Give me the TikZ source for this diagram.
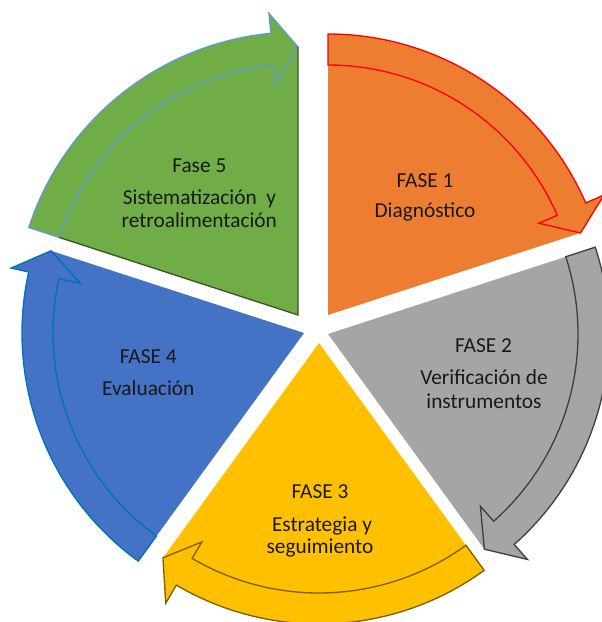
\documentclass[tikz,border=0pt]{standalone}
\usepackage{fontspec}
\setmainfont{Carlito}
\usepackage{xcolor}
\definecolor{naranja}{HTML}{ED7D31}
\definecolor{gris}{HTML}{A5A5A5}
\definecolor{grisoscuro}{HTML}{404040}
\definecolor{amarillo}{HTML}{FFC000}
\definecolor{dorado}{HTML}{7F6000}
\definecolor{azul}{HTML}{4472C4}
\definecolor{azulborde}{HTML}{0070C0}
\definecolor{verde}{HTML}{70AD47}
\definecolor{verdeoscuro}{HTML}{385723}
\definecolor{celeste}{HTML}{5B9BD5}

\begin{document}
\begin{tikzpicture}[x=0.75pt, y=0.75pt, line width=1pt, line join=miter,
	etiqueta/.style={anchor=base, inner sep=0pt, text=black!90,
		font=\fontsize{16}{17.5}\selectfont}]
	\useasboundingbox (0,0) rectangle (602,622);
	
	% FASE 1
	\begin{scope}[shift={(328,307)}]
		\fill[naranja] (0,0) -- (90:266) arc[start angle=90, end angle=18, radius=266] -- cycle;
		\filldraw[fill=naranja, draw=red] (90:281) arc[start angle=90, end angle=23.5, radius=281]
		-- (23.5:301) -- (18:265.5) -- (23.5:230) -- (23.5:250)
		arc[start angle=23.5, end angle=90, radius=250] -- cycle;
	\end{scope}
	
	% FASE 2
	\begin{scope}[shift={(328,288)}]
		\fill[gris] (0,0) -- (18:266) arc[start angle=18, end angle=-54, radius=266] -- cycle;
		\filldraw[fill=gris, draw=grisoscuro] (18:281) arc[start angle=18, end angle=-48.5, radius=281]
		-- (-48.5:301) -- (-54:266) -- (-48.5:230) -- (-48.5:250)
		arc[start angle=-48.5, end angle=18, radius=250] -- cycle;
	\end{scope}
	
	% FASE 3
	\begin{scope}[shift={(319,279)}]
		\fill[amarillo] (0,0) -- (-54:266) arc[start angle=-54, end angle=-126, radius=266] -- cycle;
		\filldraw[fill=amarillo, draw=dorado] (-54:281) arc[start angle=-54, end angle=-120.5, radius=281]
		-- (-120.5:302) -- (-126:265.5) -- (-120.5:231) -- (-120.5:250)
		arc[start angle=-120.5, end angle=-54, radius=250] -- cycle;
	\end{scope}
	
	% FASE 4
	\begin{scope}[shift={(304,289)}]
		\fill[azul] (0,0) -- (-126:266) arc[start angle=-126, end angle=-198, radius=266] -- cycle;
		\filldraw[fill=azul, draw=azulborde] (-126:282) arc[start angle=-126, end angle=-192.5, radius=282]
		-- (-192.5:300) -- (-198:266) -- (-192.5:229) -- (-192.5:251)
		arc[start angle=-192.5, end angle=-126, radius=251] -- cycle;
	\end{scope}
	
	% FASE 5
	\begin{scope}[shift={(298,307)}]
		\fill[verde] (0,0) -- (162:267) arc[start angle=162, end angle=90, radius=267] -- cycle;
		\filldraw[fill=verde, draw=celeste] (162:283) arc[start angle=162, end angle=95.5, radius=283]
		-- (95.5:303) -- (90:268) -- (95.5:232) -- (95.5:251)
		arc[start angle=95.5, end angle=162, radius=251] -- cycle;
		\draw[verdeoscuro] (90:268) -- (0,0) -- (162:251);
	\end{scope}
	
	\node[etiqueta] (fase1) at (425,434.7) {FASE 1};
	\node[etiqueta] (diagnostico) at (425,404.7) {Diagnóstico};
	
	\node[etiqueta] (fase2) at (483.5,269.3) {FASE 2};
	\node[etiqueta] (verificacion) at (484,237) {Verificación de};
	\node[etiqueta] (instrumentos) at (484,213.7) {instrumentos};
	
	\node[etiqueta] (fase3) at (320,123.7) {FASE 3};
	\node[etiqueta] (estrategia) at (322,90.3) {Estrategia y};
	\node[etiqueta] (seguimiento) at (320,68.7) {seguimiento};
	
	\node[etiqueta] (fase4) at (148.3,258.7) {FASE 4};
	\node[etiqueta] (evaluacion) at (148.3,226) {Evaluación};
	
	\node[etiqueta] (fase5) at (199.3,449.7) {Fase 5};
	\node[etiqueta] (sistematizacion) at (199.5,417) {Sistematización\ \ y};
	\node[etiqueta] (retro) at (199.3,394.7) {retroalimentación};
\end{tikzpicture}
\end{document}
